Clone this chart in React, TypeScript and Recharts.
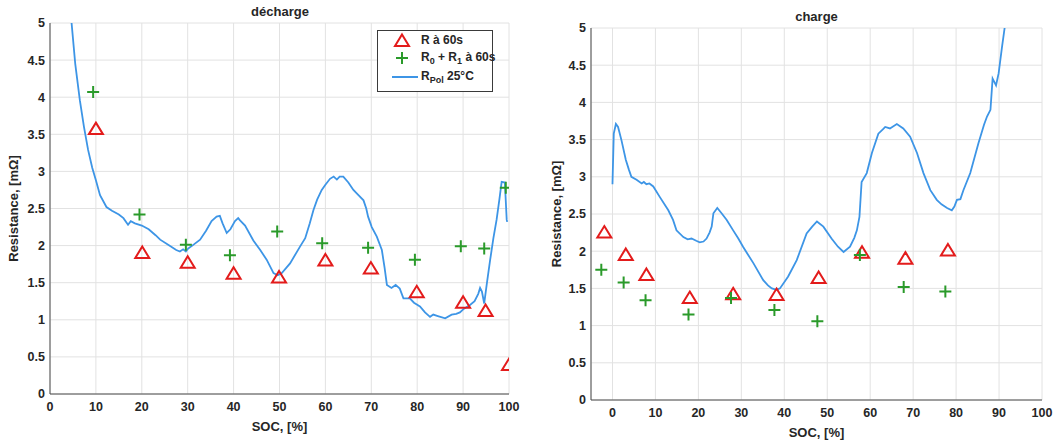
import React from 'react'
import { ComposedChart, Line, Scatter, XAxis, YAxis, CartesianGrid, Legend } from 'recharts'

// décharge: [SOC %, R mΩ]
const dechargeR60 = [
  [10, 3.57], [20.1, 1.9], [30, 1.77], [40, 1.62], [49.9, 1.57], [60, 1.8],
  [69.9, 1.69], [79.9, 1.37], [90, 1.23], [94.9, 1.12], [100, 0.39],
]
const dechargeR0R1 = [
  [9.4, 4.07], [19.5, 2.42], [29.6, 2.01], [39.2, 1.87], [49.5, 2.19], [59.3, 2.03],
  [69.3, 1.97], [79.5, 1.81], [89.5, 1.99], [94.6, 1.96], [99.3, 2.78],
]
const dechargeRpol = [
  [4.5, 5.25], [4.7, 5.0], [5.5, 4.45], [6.5, 3.96], [7.4, 3.6], [8.3, 3.29], [9.2, 3.05],
  [10, 2.88], [10.9, 2.68], [12.3, 2.52], [13.5, 2.47], [15, 2.42], [16, 2.37], [17, 2.28],
  [17.6, 2.33], [18.5, 2.3], [20, 2.27], [21.5, 2.22], [23, 2.14], [24, 2.08], [26, 2.0],
  [27.5, 1.94], [28.3, 1.92], [29, 1.95], [29.6, 1.92], [30.1, 1.96], [31, 2.0], [32.7, 2.08],
  [34, 2.2], [35.2, 2.33], [36.3, 2.39], [37, 2.4], [37.6, 2.3], [38.5, 2.17], [39.3, 2.22],
  [40.3, 2.33], [41, 2.37], [41.4, 2.34], [42.5, 2.27], [44.3, 2.07], [45.8, 1.94], [47.2, 1.81],
  [48.7, 1.63], [49.6, 1.6], [50.5, 1.63], [52.3, 1.76], [54.5, 1.99], [55.6, 2.1], [56.6, 2.3],
  [57.4, 2.48], [58.2, 2.62], [59.2, 2.75], [60, 2.82], [61, 2.9], [61.8, 2.93], [62.5, 2.89],
  [63.1, 2.93], [63.9, 2.93], [65, 2.85], [66.1, 2.75], [67.2, 2.68], [68.3, 2.61], [68.9, 2.5],
  [69.3, 2.39], [70.1, 2.25], [71.2, 2.12], [72.3, 1.94], [72.9, 1.7], [73.4, 1.47], [74.4, 1.43],
  [75.3, 1.47], [76.2, 1.42], [77, 1.29], [78.4, 1.29], [79.3, 1.23], [80.6, 1.18], [81.7, 1.1],
  [82.8, 1.04], [83.5, 1.07], [84.5, 1.05], [86.1, 1.02], [87.5, 1.07], [88.5, 1.08], [89.3, 1.1],
  [90.2, 1.15], [91.5, 1.2], [92.5, 1.25], [93.3, 1.35], [93.7, 1.43], [94.1, 1.38], [94.6, 1.22],
  [95.2, 1.5], [95.9, 1.81], [96.6, 2.1], [97.3, 2.35], [97.9, 2.62], [98.4, 2.86], [99.1, 2.85],
  [99.5, 2.35], [99.6, 2.32],
]

// charge: [SOC %, R mΩ]
const chargeR60 = [
  [-1.9, 2.25], [3.1, 1.95], [7.9, 1.68], [18, 1.37], [28.1, 1.42], [38.2, 1.41],
  [48, 1.64], [58.1, 1.98], [68.2, 1.9], [78.1, 2.01],
]
const chargeR0R1 = [
  [-2.6, 1.75], [2.6, 1.58], [7.7, 1.34], [17.7, 1.15], [27.6, 1.37], [37.7, 1.21],
  [47.7, 1.06], [57.6, 1.95], [67.8, 1.52], [77.5, 1.46],
]
const chargeRpol = [
  [0, 2.9], [0.3, 3.58], [0.8, 3.71], [1.3, 3.67], [2.1, 3.49], [3.1, 3.23], [3.8, 3.1], [4.4, 3.0],
  [5.6, 2.96], [6.8, 2.91], [7.3, 2.93], [7.9, 2.9], [8.6, 2.91], [9.5, 2.87], [11, 2.73], [13, 2.55],
  [14.1, 2.42], [14.9, 2.28], [16.5, 2.19], [17.5, 2.16], [18.4, 2.17], [19.5, 2.14], [20.3, 2.12],
  [21.2, 2.13], [21.9, 2.17], [22.6, 2.25], [23.1, 2.33], [23.5, 2.51], [24.4, 2.58], [25.4, 2.51],
  [26.6, 2.42], [28.1, 2.28], [29.3, 2.17], [30.4, 2.06], [31.6, 1.95], [32.8, 1.84], [35.1, 1.61],
  [36.2, 1.54], [37.1, 1.5], [38.2, 1.48], [39, 1.5], [40.9, 1.66], [42.9, 1.88], [45.2, 2.24],
  [46.5, 2.33], [47.6, 2.4], [49.1, 2.33], [51, 2.17], [52.5, 2.06], [53.8, 1.99], [55.3, 2.06],
  [56.3, 2.18], [56.9, 2.28], [57.5, 2.46], [58, 2.93], [59.2, 3.05], [60.4, 3.32], [61.9, 3.58],
  [63, 3.64], [63.5, 3.67], [64.6, 3.65], [66.2, 3.71], [67.7, 3.65], [69.3, 3.54], [70.9, 3.32],
  [72.4, 3.05], [74, 2.82], [75.5, 2.69], [76.6, 2.63], [77.9, 2.58], [79, 2.55], [79.6, 2.6],
  [80.2, 2.69], [81, 2.7], [81.7, 2.82], [83.3, 3.05], [85.2, 3.45], [86.5, 3.7], [87.2, 3.81],
  [88, 3.9], [88.5, 4.32], [89.3, 4.23], [89.9, 4.39], [90.7, 4.75], [91.3, 5.0], [91.6, 5.2],
]

const socTicks = [0, 10, 20, 30, 40, 50, 60, 70, 80, 90, 100]
const rTicks = [0, 0.5, 1, 1.5, 2, 2.5, 3, 3.5, 4, 4.5, 5]

const RED = '#e31b1b'
const GREEN = '#2a9a2a'
const BLUE = '#3d95e6'
const TEXT = '#262626'
const FONT = '"Liberation Sans", Arial, sans-serif'

const toRows = (pts: number[][]) => pts.map(([soc, r]) => ({ soc, r }))

const Triangle = (p: any) => {
  const { cx, cy } = p
  if (cx == null || cy == null) return null
  return (
    <path
      d={`M${cx},${cy - 6.5} L${cx + 7},${cy + 5} L${cx - 7},${cy + 5} Z`}
      fill="none"
      stroke={RED}
      strokeWidth={2}
    />
  )
}

const Plus = (p: any) => {
  const { cx, cy } = p
  if (cx == null || cy == null) return null
  return <path d={`M${cx - 6},${cy} H${cx + 6} M${cx},${cy - 6} V${cy + 6}`} stroke={GREEN} strokeWidth={2} />
}

// bold tick text, drawn at the position Recharts hands over
const Tick = (p: any) => (
  <text
    x={p.x}
    y={p.y}
    dy={p.verticalAnchor === 'start' ? '0.71em' : '0.355em'}
    textAnchor={p.textAnchor}
    fill={TEXT}
    fontSize={12.5}
    fontWeight={700}
    fontFamily={FONT}
  >
    {p.payload.value}
  </text>
)

const LegendBox = () => {
  const row = (top: number): React.CSSProperties => ({ position: 'absolute', left: 43, top, whiteSpace: 'nowrap' })
  const sub: React.CSSProperties = { fontSize: 9, verticalAlign: -3 }
  return (
    <div
      style={{
        position: 'relative', width: 116, height: 62, boxSizing: 'border-box',
        border: '1.5px solid #3a3a3a', background: '#fff', fontFamily: FONT,
        fontWeight: 'bold', fontSize: 12, color: TEXT, lineHeight: '14px',
      }}
    >
      <svg width={42} height={60} style={{ position: 'absolute', left: 0, top: 0 }}>
        <path d="M24,3.5 L31,15 L17,15 Z" fill="none" stroke={RED} strokeWidth={2} />
        <path d="M18,27 H30 M24,21 V33" stroke={GREEN} strokeWidth={2} />
        <line x1={14} y1={46} x2={40} y2={46} stroke={BLUE} strokeWidth={2} />
      </svg>
      <div style={row(2)}>R à 60s</div>
      <div style={row(19)}>R<span style={sub}>0</span> + R<span style={sub}>1</span> à 60s</div>
      <div style={row(38)}>R<span style={sub}>Pol</span> 25°C</div>
    </div>
  )
}

const labelStyle = { fill: TEXT, fontSize: 13, fontWeight: 'bold', fontFamily: FONT }

interface PanelProps {
  width: number
  yAxisWidth: number
  margin: { top: number; right: number; bottom: number; left: number }
  xDomain: [number, number]
  yLabelOffset: number
  r60: number[][]
  r0r1: number[][]
  rpol: number[][]
  legend?: boolean
}

function Panel({ width, yAxisWidth, margin, xDomain, yLabelOffset, r60, r0r1, rpol, legend }: PanelProps) {
  return (
    <ComposedChart width={width} height={443} margin={margin}>
      <CartesianGrid stroke="#e2e2e2" strokeWidth={1} />
      <XAxis
        type="number"
        dataKey="soc"
        domain={xDomain}
        ticks={socTicks}
        allowDataOverflow
        height={30}
        stroke="#4a4a4a"
        tickLine={false}
        tickSize={6}
        tickMargin={2}
        tick={Tick}
        label={{ value: 'SOC, [%]', position: 'insideBottom', offset: -7, style: labelStyle }}
      />
      <YAxis
        type="number"
        domain={[0, 5]}
        ticks={rTicks}
        allowDataOverflow
        width={yAxisWidth}
        stroke="#4a4a4a"
        tickLine={false}
        tickSize={5}
        tickMargin={0}
        tick={Tick}
        label={{
          value: 'Resistance, [mΩ]', angle: -90, position: 'insideLeft', offset: yLabelOffset,
          style: { ...labelStyle, textAnchor: 'middle' },
        }}
      />
      <Line
        data={toRows(rpol)}
        dataKey="r"
        type="linear"
        stroke={BLUE}
        strokeWidth={1.8}
        dot={false}
        activeDot={false}
        isAnimationActive={false}
      />
      <Scatter data={toRows(r60)} dataKey="r" shape={Triangle} isAnimationActive={false} />
      <Scatter data={toRows(r0r1)} dataKey="r" shape={Plus} isAnimationActive={false} />
      {legend && (
        <Legend
          layout="vertical"
          align="center"
          verticalAlign="middle"
          content={() => <LegendBox />}
          wrapperStyle={{ left: 377, top: 30, width: 116, height: 62 }}
        />
      )}
    </ComposedChart>
  )
}

const titleStyle: React.CSSProperties = {
  position: 'absolute', textAlign: 'center', fontFamily: FONT, fontWeight: 'bold',
  fontSize: 13, color: TEXT, lineHeight: '16px',
}

export default function App() {
  return (
    <div style={{ position: 'absolute', left: 0, top: 0, width: 1057, height: 443, background: '#fff', overflow: 'hidden' }}>
      <div style={{ position: 'absolute', left: 0, top: 0 }}>
        <Panel
          width={530}
          yAxisWidth={50}
          margin={{ top: 23, right: 21, bottom: 19, left: 0 }}
          xDomain={[0, 100]}
          yLabelOffset={13}
          r60={dechargeR60}
          r0r1={dechargeR0R1}
          rpol={dechargeRpol}
          legend
        />
      </div>
      <div style={{ ...titleStyle, left: 0, width: 560, top: 4 }}>décharge</div>
      <div style={{ position: 'absolute', left: 530, top: 0 }}>
        <Panel
          width={527}
          yAxisWidth={61}
          margin={{ top: 28, right: 15, bottom: 13, left: 0 }}
          xDomain={[-5, 100]}
          yLabelOffset={26}
          r60={chargeR60}
          r0r1={chargeR0R1}
          rpol={chargeRpol}
        />
      </div>
      <div style={{ ...titleStyle, left: 530, width: 573, top: 9 }}>charge</div>
    </div>
  )
}
